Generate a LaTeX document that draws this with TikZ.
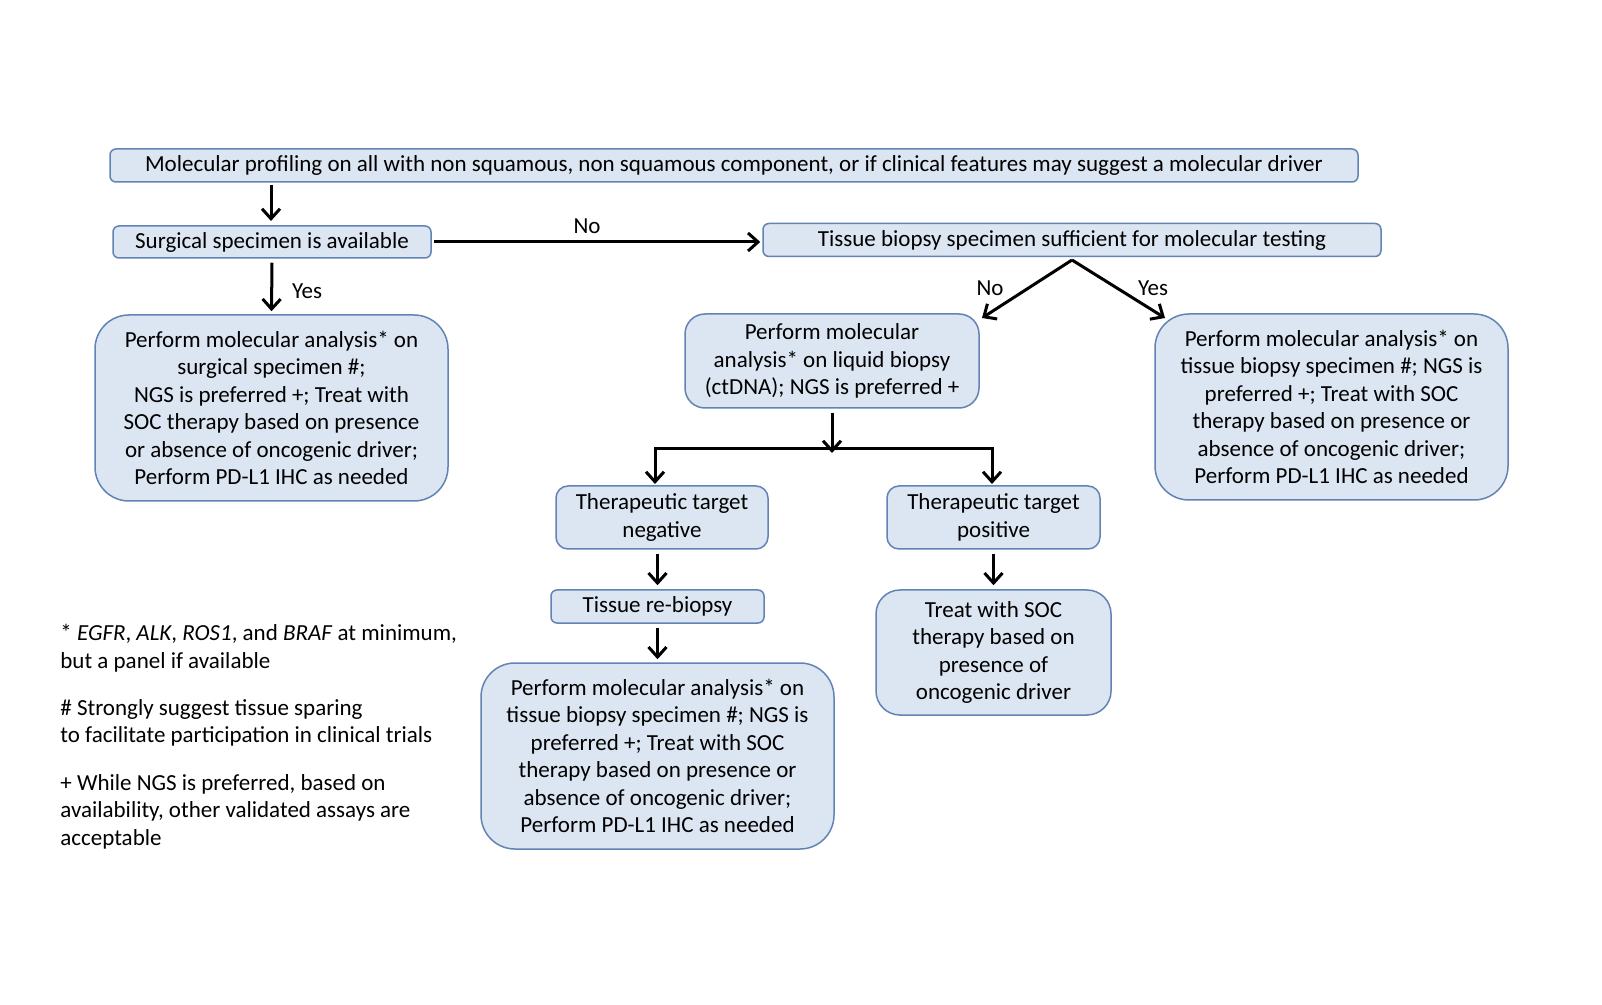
\documentclass[tikz,border=0pt]{standalone}
\usepackage{fontspec}
\setmainfont{Carlito}
\usetikzlibrary{arrows.meta}
\definecolor{boxfill}{HTML}{DCE6F2}
\definecolor{boxdraw}{HTML}{6283B3}
\begin{document}
\begin{tikzpicture}[x=0.5pt,y=-0.5pt,
  every node/.style={font=\fontsize{11.5}{13.7}\selectfont},
  box/.style={draw=boxdraw,fill=boxfill,line width=0.75pt,inner sep=0pt,align=center},
  arr/.style={line width=1.5pt,-{Straight Barb[length=5pt,width=9pt,line width=1.5pt]}},
  lbl/.style={inner sep=1pt}]
\useasboundingbox[fill=white] (0,0) rectangle (1602,1005);
\node[box,rounded corners=3pt,minimum width=624pt,minimum height=16.5pt] (top) at (734,165.5)
  {Molecular profiling on all with non squamous, non squamous component, or if clinical features may suggest a molecular driver};
\node[box,rounded corners=3pt,minimum width=159pt,minimum height=16pt] (surg) at (272,242)
  {Surgical specimen is available};
\node[box,rounded corners=3pt,minimum width=309pt,minimum height=16.5pt] (tissue) at (1072,240)
  {Tissue biopsy specimen sufficient for molecular testing};
\node[box,rounded corners=17pt,minimum width=176.5pt,minimum height=93pt] (lbig) at (271.5,408)
  {Perform molecular analysis* on\\ surgical specimen \#;\\ NGS is preferred +; Treat with\\ SOC therapy based on presence\\ or absence of oncogenic driver;\\ Perform PD-L1 IHC as needed};
\node[box,rounded corners=10pt,minimum width=147pt,minimum height=47pt] (liquid) at (832,361)
  {Perform molecular\\ analysis* on liquid biopsy\\ (ctDNA); NGS is preferred +};
\node[box,rounded corners=17pt,minimum width=176.5pt,minimum height=93pt] (rbig) at (1331.5,407)
  {Perform molecular analysis* on\\ tissue biopsy specimen \#; NGS is\\ preferred +; Treat with SOC\\ therapy based on presence or\\ absence of oncogenic driver;\\ Perform PD-L1 IHC as needed};
\node[box,rounded corners=6pt,minimum width=106pt,minimum height=31.5pt] (neg) at (662,517.5)
  {Therapeutic target\\ negative};
\node[box,rounded corners=6pt,minimum width=106.5pt,minimum height=31.5pt] (pos) at (993.5,517.5)
  {Therapeutic target\\ positive};
\node[box,rounded corners=3pt,minimum width=106.5pt,minimum height=16.5pt] (rebio) at (657.5,606.5)
  {Tissue re-biopsy};
\node[box,rounded corners=12pt,minimum width=117.5pt,minimum height=62.5pt] (treat) at (993.5,652.5)
  {Treat with SOC\\ therapy based on\\ presence of\\ oncogenic driver};
\node[box,rounded corners=17pt,minimum width=176.5pt,minimum height=93pt] (bbig) at (657.5,756)
  {Perform molecular analysis* on\\ tissue biopsy specimen \#; NGS is\\ preferred +; Treat with SOC\\ therapy based on presence or\\ absence of oncogenic driver;\\ Perform PD-L1 IHC as needed};
% footnotes
\node[anchor=north west,align=left,inner sep=0pt] (fn1) at (60,624)
  {* \textit{EGFR}, \textit{ALK}, \textit{ROS1}, and \textit{BRAF} at minimum,\\ but a panel if available};
\node[anchor=north west,align=left,inner sep=0pt] (fn2) at (60,699)
  {\# Strongly suggest tissue sparing\\ to facilitate participation in clinical trials};
\node[anchor=north west,align=left,inner sep=0pt] (fn3) at (60,774)
  {+ While NGS is preferred, based on\\ availability, other validated assays are\\ acceptable};
% connectors
\coordinate (a1) at (271,185);
\coordinate (a2) at (271,221);
\draw[arr] (a1) -- (a2);
\draw[arr] ([yshift=-2pt]surg.south) -- ([yshift=1.5pt]lbig.north);
\node[lbl] (yes1) at (307,291) {Yes};
\draw[arr] ([xshift=1pt]surg.east) -- ([xshift=-1pt]surg.east -| tissue.west);
\node[lbl] (no1) at (587,226) {No};
\coordinate (tsplit) at (1072,260);
\coordinate (tno) at (982,318);
\coordinate (tyes) at (1165,318);
\draw[arr] (tsplit) -- (tno);
\draw[arr] (tsplit) -- (tyes);
\node[lbl] (no2) at (990,288) {No};
\node[lbl] (yes2) at (1153,288) {Yes};
\coordinate (hbar) at (832,449);
\coordinate (hl) at (655,449);
\coordinate (hr) at (992,449);
\coordinate (hlend) at (655,484);
\coordinate (hrend) at (992,484);
\draw[arr] ([yshift=-2pt]liquid.south) -- ([yshift=-2pt]hbar);
\draw[line width=1.5pt,line cap=rect] (hl) -- (hr);
\draw[arr] (hl) -- (hlend);
\draw[arr] (hr) -- (hrend);
\draw[arr] ([yshift=-2pt]neg.south -| rebio) -- ([yshift=2pt]rebio.north);
\draw[arr] ([yshift=-2pt]rebio.south) -- ([yshift=1.5pt]bbig.north);
\draw[arr] ([yshift=-2pt]pos.south) -- ([yshift=2pt]treat.north);
\end{tikzpicture}
\end{document}
